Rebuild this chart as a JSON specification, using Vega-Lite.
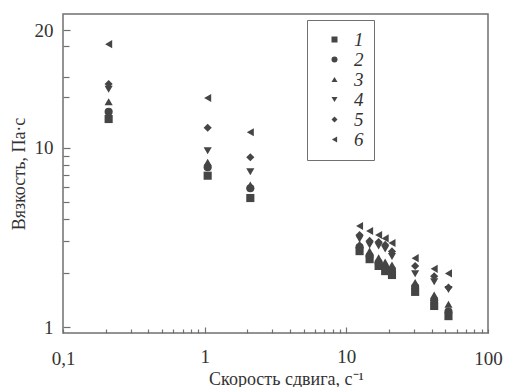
{
  "$schema": "https://vega.github.io/schema/vega-lite/v6.json",
  "width": 425,
  "height": 319,
  "autosize": "none",
  "padding": {"left": 63, "top": 14, "right": 18, "bottom": 54},
  "background": "white",
  "data": {
    "values": [
      {"x": 0.21, "y": 11.84, "s": "1"}, {"x": 1.05, "y": 6.98, "s": "1"}, {"x": 2.1, "y": 5.24, "s": "1"}, {"x": 12.4, "y": 2.65, "s": "1"}, {"x": 14.6, "y": 2.39, "s": "1"}, {"x": 16.9, "y": 2.19, "s": "1"}, {"x": 18.8, "y": 2.05, "s": "1"}, {"x": 21, "y": 1.95, "s": "1"}, {"x": 30.6, "y": 1.57, "s": "1"}, {"x": 41.7, "y": 1.31, "s": "1"}, {"x": 52.6, "y": 1.15, "s": "1"},
      {"x": 0.21, "y": 12.36, "s": "2"}, {"x": 1.05, "y": 7.78, "s": "2"}, {"x": 2.1, "y": 5.94, "s": "2"}, {"x": 12.4, "y": 2.79, "s": "2"}, {"x": 14.6, "y": 2.49, "s": "2"}, {"x": 16.9, "y": 2.28, "s": "2"}, {"x": 18.8, "y": 2.13, "s": "2"}, {"x": 21, "y": 2.08, "s": "2"}, {"x": 30.6, "y": 1.67, "s": "2"}, {"x": 41.7, "y": 1.41, "s": "2"}, {"x": 52.6, "y": 1.22, "s": "2"},
      {"x": 0.21, "y": 13.1, "s": "3"}, {"x": 1.05, "y": 8.29, "s": "3"}, {"x": 2.1, "y": 6.19, "s": "3"}, {"x": 12.4, "y": 2.9, "s": "3"}, {"x": 14.6, "y": 2.65, "s": "3"}, {"x": 16.9, "y": 2.43, "s": "3"}, {"x": 18.8, "y": 2.3, "s": "3"}, {"x": 21, "y": 2.22, "s": "3"}, {"x": 30.6, "y": 1.77, "s": "3"}, {"x": 41.7, "y": 1.51, "s": "3"}, {"x": 52.6, "y": 1.34, "s": "3"},
      {"x": 0.21, "y": 14.1, "s": "4"}, {"x": 1.05, "y": 9.62, "s": "4"}, {"x": 2.1, "y": 7.35, "s": "4"}, {"x": 12.4, "y": 3.1, "s": "4"}, {"x": 14.6, "y": 2.87, "s": "4"}, {"x": 16.9, "y": 2.83, "s": "4"}, {"x": 18.8, "y": 2.72, "s": "4"}, {"x": 21, "y": 2.47, "s": "4"}, {"x": 30.6, "y": 1.98, "s": "4"}, {"x": 41.7, "y": 1.79, "s": "4"}, {"x": 52.6, "y": 1.62, "s": "4"},
      {"x": 0.21, "y": 14.55, "s": "5"}, {"x": 1.05, "y": 11.25, "s": "5"}, {"x": 2.1, "y": 8.84, "s": "5"}, {"x": 12.4, "y": 3.26, "s": "5"}, {"x": 14.6, "y": 3.02, "s": "5"}, {"x": 16.9, "y": 2.98, "s": "5"}, {"x": 18.8, "y": 2.87, "s": "5"}, {"x": 21, "y": 2.64, "s": "5"}, {"x": 30.6, "y": 2.19, "s": "5"}, {"x": 41.7, "y": 1.92, "s": "5"}, {"x": 52.6, "y": 1.66, "s": "5"},
      {"x": 0.21, "y": 18.4, "s": "6"}, {"x": 1.05, "y": 13.4, "s": "6"}, {"x": 2.1, "y": 10.95, "s": "6"}, {"x": 12.4, "y": 3.66, "s": "6"}, {"x": 14.6, "y": 3.43, "s": "6"}, {"x": 16.9, "y": 3.26, "s": "6"}, {"x": 18.8, "y": 3.12, "s": "6"}, {"x": 21, "y": 2.94, "s": "6"}, {"x": 30.6, "y": 2.42, "s": "6"}, {"x": 41.7, "y": 2.11, "s": "6"}, {"x": 52.6, "y": 1.99, "s": "6"}
    ]
  },
  "mark": {"type": "point", "filled": true, "size": 66, "color": "#454545", "opacity": 1},
  "encoding": {
    "x": {
      "field": "x", "type": "quantitative",
      "scale": {"type": "log", "domain": [0.1, 100], "nice": false},
      "axis": {
        "title": "Скорость сдвига, с⁻¹",
        "values": [0.1, 0.2, 0.3, 0.4, 0.5, 0.6, 0.7, 0.8, 0.9, 1, 2, 3, 4, 5, 6, 7, 8, 9, 10, 20, 30, 40, 50, 60, 70, 80, 90, 100],
        "labelExpr": "datum.value == 0.1 ? '0,1' : datum.value == 1 ? '1' : datum.value == 10 ? '10' : datum.value == 100 ? '100' : ''",
        "tickSize": {"condition": {"test": "datum.value == 1 || datum.value == 10", "value": -6}, "value": -4},
        "labelPadding": 20,
        "titlePadding": 2,
        "titleX": 223,
        "titleAlign": "center"
      }
    },
    "y": {
      "field": "y", "type": "quantitative",
      "scale": {"type": "log", "domain": [0.926, 1, 10, 20, 22], "range": [319, 313, 133.7, 16, 0], "nice": false, "zero": false},
      "axis": {
        "title": "Вязкость, Па·с",
        "values": [1, 2, 3, 4, 5, 6, 7, 8, 9, 10, 13.45, 15.2, 18.2, 20],
        "labelExpr": "datum.value == 1 ? '1' : datum.value == 10 ? '10' : datum.value == 20 ? '20' : ''",
        "tickSize": {"condition": {"test": "datum.value == 1 || datum.value == 10 || datum.value == 20", "value": -7}, "value": -6},
        "labelPadding": 17,
        "titlePadding": 6
      }
    },
    "shape": {
      "field": "s", "type": "nominal",
      "scale": {"domain": ["1", "2", "3", "4", "5", "6"], "range": ["square", "circle", "triangle-up", "triangle-down", "diamond", "triangle-left"]},
      "legend": {
        "title": null,
        "orient": "none",
        "legendX": 244,
        "legendY": 6,
        "padding": 10,
        "strokeColor": "#707070",
        "fillColor": "white",
        "symbolOffset": 8,
        "symbolSize": 36,
        "symbolFillColor": "#454545",
        "symbolStrokeWidth": 0,
        "labelFont": "Liberation Serif",
        "labelFontStyle": "italic",
        "labelFontSize": 19,
        "labelColor": "#333",
        "labelOffset": 10,
        "rowPadding": 0
      }
    }
  },
  "config": {
    "view": {"stroke": "#707070", "strokeWidth": 1.5},
    "axis": {
      "domain": false,
      "grid": false,
      "tickColor": "#707070",
      "tickWidth": 1.2,
      "labelFont": "Liberation Serif",
      "labelFontSize": 19,
      "labelColor": "#333",
      "titleFont": "Liberation Serif",
      "titleFontSize": 18,
      "titleFontWeight": "normal",
      "titleColor": "#333",
      "labelFlush": false,
      "labelOverlap": false
    }
  }
}
